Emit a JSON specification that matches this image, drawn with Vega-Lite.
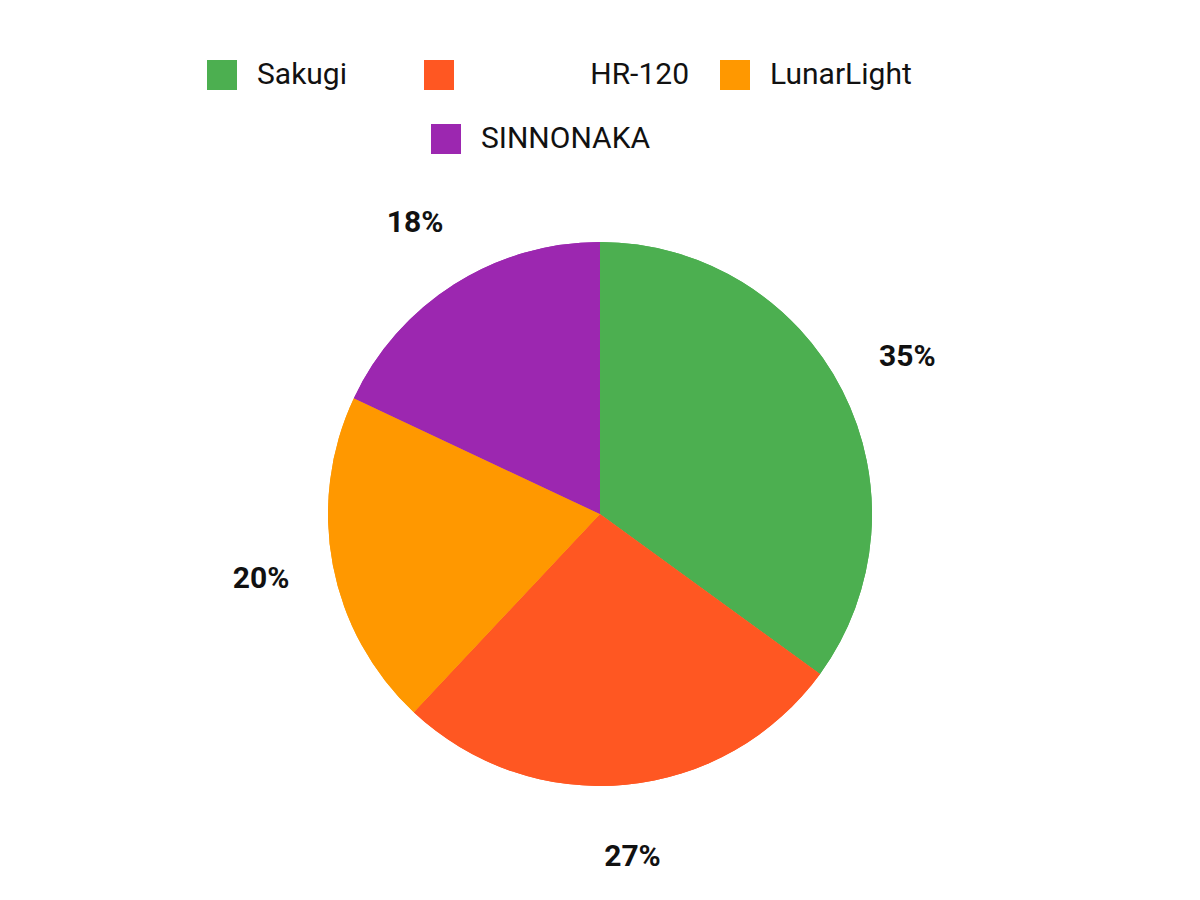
{
  "$schema": "https://vega.github.io/schema/vega-lite/v6.json",
  "width": 1200,
  "height": 772,
  "autosize": "none",
  "padding": {"top": 128, "left": 0, "right": 0, "bottom": 0},
  "background": "white",
  "config": {
    "view": {"stroke": null},
    "font": "Roboto"
  },
  "data": {
    "values": [
      {"brand": "Sakugi", "share": 0.35},
      {"brand": "HR-120", "share": 0.27},
      {"brand": "LunarLight", "share": 0.20},
      {"brand": "SINNONAKA", "share": 0.18}
    ]
  },
  "encoding": {
    "theta": {"field": "share", "type": "quantitative", "stack": true},
    "order": {"field": "share", "type": "quantitative", "sort": "descending"}
  },
  "layer": [
    {
      "mark": {"type": "arc", "radius": 272},
      "encoding": {
        "color": {
          "field": "brand",
          "type": "nominal",
          "scale": {
            "domain": ["Sakugi", "HR-120", "LunarLight", "SINNONAKA"],
            "range": ["#4caf50", "#ff5722", "#ff9800", "#9c27b0"]
          },
          "legend": {
            "title": null,
            "values": ["Sakugi", "HR-120", "LunarLight"],
            "orient": "none",
            "direction": "horizontal",
            "legendX": 207,
            "legendY": -68,
            "padding": 0,
            "symbolType": "square",
            "symbolSize": 900,
            "symbolStrokeWidth": 0,
            "labelFont": "Roboto",
            "labelFontSize": 30,
            "labelColor": "#111111",
            "labelOffset": 20,
            "labelLimit": 400,
            "columnPadding": 31,
            "labelExpr": "datum.label == 'Sakugi' ? 'Sakugi\u2002\u2002\u2002\u200b' : datum.label == 'HR-120' ? '\u200b\u2002\u2002\u2002\u2002\u2002\u2002\u2002\u2009\u200aHR-120' : datum.label"
          }
        }
      }
    },
    {
      "mark": {"type": "arc", "radius": 272},
      "encoding": {
        "color": {
          "field": "brand",
          "type": "nominal",
          "scale": {
            "domain": ["Sakugi", "HR-120", "LunarLight", "SINNONAKA"],
            "range": ["#4caf50", "#ff5722", "#ff9800", "#9c27b0"]
          },
          "legend": {
            "title": null,
            "values": ["SINNONAKA"],
            "orient": "none",
            "direction": "horizontal",
            "legendX": 431,
            "legendY": -4,
            "padding": 0,
            "symbolType": "square",
            "symbolSize": 900,
            "symbolStrokeWidth": 0,
            "labelFont": "Roboto",
            "labelFontSize": 30,
            "labelColor": "#111111",
            "labelOffset": 20,
            "labelLimit": 400
          }
        }
      }
    },
    {
      "mark": {
        "type": "text",
        "radius": 345,
        "font": "Roboto",
        "fontSize": 30,
        "fontWeight": "bold",
        "color": "#111111"
      },
      "encoding": {
        "text": {"field": "share", "type": "quantitative", "format": ".0%"}
      }
    }
  ],
  "resolve": {"scale": {"color": "independent"}}
}
